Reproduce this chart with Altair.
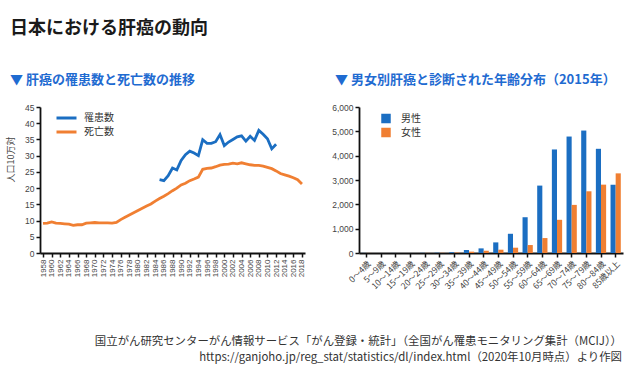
import altair as alt
import pandas as pd

# ---------------- data ----------------
death_years = list(range(1958, 2019))
deaths = [9.1, 9.2, 9.6, 9.2, 9.1, 9.0, 8.9, 8.5, 8.7, 8.7,
          9.2, 9.3, 9.4, 9.3, 9.3, 9.3, 9.2, 9.4, 10.3, 11.0,
          11.7, 12.4, 13.1, 13.8, 14.5, 15.1, 16.0, 16.8, 17.5, 18.3,
          19.2, 20.0, 21.0, 21.5, 22.3, 22.8, 23.4, 25.8, 26.1, 26.2,
          26.6, 27.1, 27.3, 27.4, 27.7, 27.5, 27.8, 27.5, 27.2, 27.0,
          27.0, 26.8, 26.4, 26.0, 25.3, 24.5, 24.1, 23.7, 23.2, 22.6,
          21.3]
inc_years = list(range(1985, 2013))
incidence = [22.6, 22.3, 23.8, 26.2, 25.6, 28.5, 30.3, 31.4, 30.8, 30.0,
             34.9, 33.8, 33.8, 34.3, 36.5, 33.1, 34.2, 35.0, 35.8, 36.1,
             34.5, 36.0, 34.7, 37.8, 36.6, 35.2, 32.1, 33.5]
series_names = ["罹患数", "死亡数"]

age_groups = ["0〜4歳", "5〜9歳", "10〜14歳", "15〜19歳", "20〜24歳", "25〜29歳",
              "30〜34歳", "35〜39歳", "40〜44歳", "45〜49歳", "50〜54歳", "55〜59歳",
              "60〜64歳", "65〜69歳", "70〜74歳", "75〜79歳", "80〜84歳", "85歳以上"]
male = [4, 1, 2, 3, 6, 12, 30, 123, 190, 436, 790, 1470, 2770, 4255, 4786, 5032, 4282, 2809]
female = [3, 1, 1, 2, 4, 8, 18, 55, 95, 136, 218, 327, 614, 1364, 1977, 2536, 2809, 3273]
sex_names = ["男性", "女性"]

main_title = ["日本における肝癌の動向"]
left_sub = ["▼ 肝癌の罹患数と死亡数の推移"]
right_sub = ["▼ 男女別肝癌と診断された年齢分布（2015年）"]
footer1 = ["国立がん研究センターがん情報サービス「がん登録・統計」（全国がん罹患モニタリング集計（MCIJ））"]
footer2 = ["https://ganjoho.jp/reg_stat/statistics/dl/index.html（2020年10月時点）より作図"]

BLUE = "#1B6EC2"
ORANGE = "#F07F32"
SUBBLUE = "#1F6BD1"
JP = "Noto Sans CJK JP"
LAT = "Liberation Sans"

W_L, W_R, H = 265, 264, 146

line_df = pd.DataFrame({
    "year": inc_years + death_years,
    "value": incidence + deaths,
    "series": [series_names[0]] * len(inc_years) + [series_names[1]] * len(death_years),
})

bar_df = pd.DataFrame({
    "age": age_groups * 2,
    "count": male + female,
    "sex": [sex_names[0]] * len(age_groups) + [sex_names[1]] * len(age_groups),
})

axis_common = dict(domainColor="#111", domainWidth=1.8, tickColor="#111", tickWidth=1.5,
                   tickSize=4, labelColor="#444", grid=False, labelPadding=2)

lines = alt.Chart(line_df).mark_line(strokeWidth=2.8).encode(
    x=alt.X("year:Q",
            scale=alt.Scale(domain=[1957.3, 2018.7], nice=False, zero=False),
            axis=alt.Axis(values=list(range(1958, 2019, 2)), format="d", labelAngle=270,
                          labelFontSize=8, labelFont=LAT, title=None, **axis_common)),
    y=alt.Y("value:Q", scale=alt.Scale(domain=[0, 45], nice=False),
            axis=alt.Axis(values=list(range(0, 46, 5)), labelFontSize=8.5, labelFont=LAT,
                          title="人口10万対", titleFont=JP, titleFontSize=9, titleFontWeight="normal",
                          titleColor="#444", titleAngle=270, titleX=-29.5, titleY=52,
                          titleAlign="center", titleBaseline="middle", **axis_common)),
    color=alt.Color("series:N", scale=alt.Scale(domain=series_names, range=[BLUE, ORANGE]),
                    legend=alt.Legend(title=None, orient="none", legendX=15, legendY=4,
                                      symbolType="stroke", symbolSize=400, symbolStrokeWidth=3,
                                      clipHeight=14, rowPadding=0, padding=0, labelOffset=6,
                                      labelFont=JP, labelFontSize=10, labelColor="#333")),
)

t_main = alt.Chart(pd.DataFrame({"t": main_title})).mark_text(
    align="left", baseline="middle", font=JP, fontSize=18, fontWeight="bold", color="#1a1a1a"
).encode(x=alt.value(-30), y=alt.value(-78.5), text="t:N")

t_lsub = alt.Chart(pd.DataFrame({"t": left_sub})).mark_text(
    align="left", baseline="middle", font=JP, fontSize=13, fontWeight="bold", color=SUBBLUE
).encode(x=alt.value(-30), y=alt.value(-27.5), text="t:N")

left = alt.layer(lines, t_main, t_lsub).properties(width=W_L, height=H)

bars = alt.Chart(bar_df).mark_bar().encode(
    x=alt.X("age:N", sort=age_groups,
            scale=alt.Scale(paddingInner=0.3, paddingOuter=0.15),
            axis=alt.Axis(labelAngle=315, labelFontSize=8.5, labelFont=JP, title=None, **axis_common)),
    xOffset=alt.XOffset("sex:N", sort=sex_names),
    y=alt.Y("count:Q", scale=alt.Scale(domain=[0, 6000], nice=False),
            axis=alt.Axis(values=list(range(0, 6001, 1000)), format=",.0f", labelFontSize=8.5,
                          labelFont=LAT, title=None, **axis_common)),
    color=alt.Color("sex:N", scale=alt.Scale(domain=sex_names, range=[BLUE, ORANGE]),
                    legend=alt.Legend(title=None, orient="none", legendX=22, legendY=4.5,
                                      symbolType="square", symbolSize=90, symbolStrokeWidth=0,
                                      clipHeight=14, rowPadding=0, padding=0, labelOffset=10,
                                      labelFont=JP, labelFontSize=10, labelColor="#333")),
)

t_rsub = alt.Chart(pd.DataFrame({"t": right_sub})).mark_text(
    align="left", baseline="middle", font=JP, fontSize=13, fontWeight="bold", color=SUBBLUE
).encode(x=alt.value(-24), y=alt.value(-27.5), text="t:N")

t_f1 = alt.Chart(pd.DataFrame({"t": footer1})).mark_text(
    align="right", baseline="middle", font=JP, fontSize=11.4, color="#333"
).encode(x=alt.value(263), y=alt.value(234.5), text="t:N")

t_f2 = alt.Chart(pd.DataFrame({"t": footer2})).mark_text(
    align="right", baseline="middle", font=JP, fontSize=11.4, color="#333"
).encode(x=alt.value(263), y=alt.value(250.5), text="t:N")

right = alt.layer(bars, t_rsub, t_f1, t_f2).properties(width=W_R, height=H)

chart = alt.hconcat(left, right, spacing=54, bounds="flush").resolve_scale(
    color="independent"
).properties(
    padding={"left": 6, "top": 19, "right": 5, "bottom": 5},
    background="white",
).configure_view(stroke=None)

chart.save("out.html", embed_options={"renderer": "svg", "actions": False})
